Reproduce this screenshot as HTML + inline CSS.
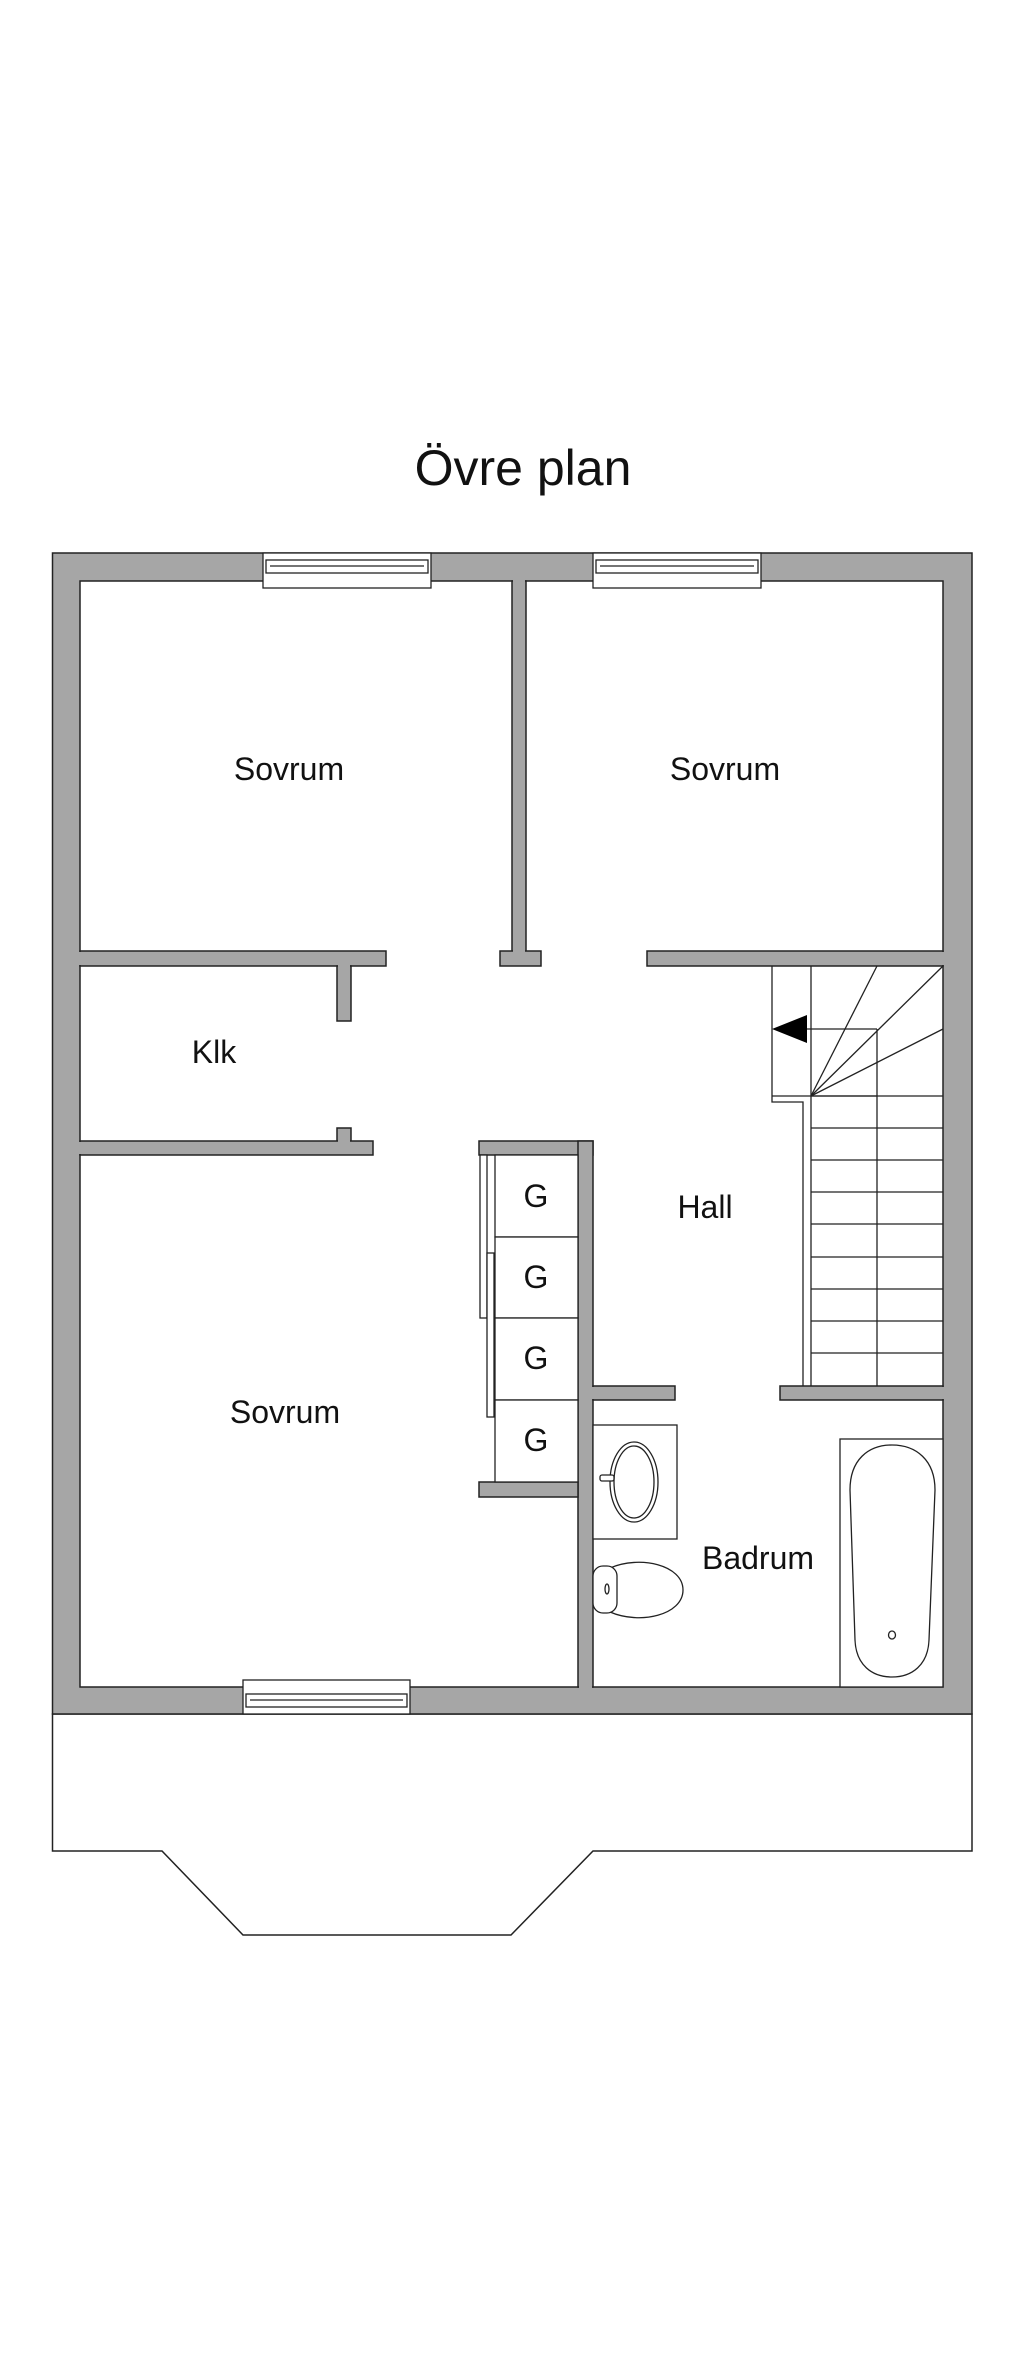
<!DOCTYPE html>
<html><head><meta charset="utf-8"><style>
html,body{margin:0;padding:0;background:#fff;}
svg{display:block;}
text{font-family:"Liberation Sans","DejaVu Sans",sans-serif;fill:#111;}
</style></head><body>
<svg width="1024" height="2374" viewBox="0 0 1024 2374" xmlns="http://www.w3.org/2000/svg">
<text x="523" y="485" font-size="50" text-anchor="middle">Övre plan</text>

<!-- balcony -->
<polygon points="52.5,1714 972,1714 972,1851 593,1851 511,1935 243,1935 162,1851 52.5,1851" fill="#fff" stroke="#222" stroke-width="1.5"/>

<!-- outer walls -->
<rect x="52.5" y="553" width="919.5" height="1161" fill="#a6a6a6" stroke="#222" stroke-width="1.5"/>
<rect x="80" y="581" width="863" height="1106" fill="#fff" stroke="#222" stroke-width="1.5"/>

<!-- interior walls -->
<g fill="#a6a6a6" stroke="#222" stroke-width="1.5">
<rect x="512" y="581" width="14" height="372"/>
<rect x="500" y="951" width="41" height="15"/>
<rect x="80" y="951" width="306" height="15"/>
<rect x="647" y="951" width="296" height="15"/>
<rect x="337" y="966" width="14" height="55"/>
<rect x="337" y="1128" width="14" height="15"/>
<rect x="80" y="1141" width="293" height="14"/>
<rect x="479" y="1141" width="114" height="14"/>
<rect x="578" y="1141" width="15" height="546"/>
<rect x="479" y="1482" width="99" height="15"/>
<rect x="593" y="1386" width="82" height="14"/>
<rect x="780" y="1386" width="163" height="14"/>
</g>
<!-- cover internal wall seams -->
<g fill="#a6a6a6">
<rect x="513" y="579" width="12" height="4"/>
<rect x="513" y="950" width="12" height="3"/>
<rect x="78" y="952" width="4" height="13"/>
<rect x="941" y="952" width="4" height="13"/>
<rect x="338" y="965" width="12" height="3"/>
<rect x="338" y="1140" width="12" height="3"/>
<rect x="78" y="1142" width="4" height="12"/>
<rect x="579" y="1142" width="13" height="12"/>
<rect x="579" y="1483" width="13" height="13"/>
<rect x="579" y="1387" width="16" height="12"/>
<rect x="941" y="1387" width="4" height="12"/>
<rect x="579" y="1685" width="13" height="4"/>
</g>

<!-- windows -->
<g fill="#fff" stroke="#222" stroke-width="1.3">
<rect x="263" y="553" width="168" height="35"/>
<rect x="266" y="560" width="162" height="13"/>
<line x1="270" y1="566" x2="424" y2="566"/>
<rect x="593" y="553" width="168" height="35"/>
<rect x="596" y="560" width="162" height="13"/>
<line x1="600" y1="566" x2="754" y2="566"/>
<rect x="243" y="1680" width="167" height="34"/>
<rect x="246" y="1694" width="161" height="13"/>
<line x1="250" y1="1700" x2="403" y2="1700"/>
</g>

<!-- closet -->
<g fill="#fff" stroke="#222" stroke-width="1.3">
<rect x="495" y="1155" width="83" height="82"/>
<rect x="495" y="1237" width="83" height="81"/>
<rect x="495" y="1318" width="83" height="82"/>
<rect x="495" y="1400" width="83" height="82"/>
<rect x="480" y="1155" width="7" height="163"/>
<rect x="487" y="1253" width="7" height="164"/>
</g>
<g font-size="32" text-anchor="middle">
<text x="536" y="1207">G</text>
<text x="536" y="1288">G</text>
<text x="536" y="1369">G</text>
<text x="536" y="1451">G</text>
</g>

<!-- stairs -->
<g fill="none" stroke="#222" stroke-width="1.3">
<polyline points="772,966 772,1102 803,1102 803,1386"/>
<line x1="811" y1="966" x2="811" y2="1386"/>
<line x1="877" y1="1029" x2="877" y2="1386"/>
<line x1="807" y1="1029" x2="877" y2="1029"/>
<line x1="811" y1="1096" x2="877" y2="1096"/>
<line x1="811" y1="1096" x2="877" y2="966"/>
<line x1="811" y1="1096" x2="943" y2="966"/>
<line x1="811" y1="1096" x2="943" y2="1029"/>
<line x1="772" y1="1096" x2="943" y2="1096"/>
<line x1="811" y1="1128" x2="943" y2="1128"/>
<line x1="811" y1="1160" x2="943" y2="1160"/>
<line x1="811" y1="1192" x2="943" y2="1192"/>
<line x1="811" y1="1224" x2="943" y2="1224"/>
<line x1="811" y1="1257" x2="943" y2="1257"/>
<line x1="811" y1="1289" x2="943" y2="1289"/>
<line x1="811" y1="1321" x2="943" y2="1321"/>
<line x1="811" y1="1353" x2="943" y2="1353"/>
</g>
<polygon points="772,1029 807,1015 807,1043" fill="#000"/>

<!-- bathroom fixtures -->
<g fill="#fff" stroke="#222" stroke-width="1.3">
<rect x="593" y="1425" width="84" height="114"/>
<ellipse cx="634" cy="1482" rx="24" ry="40"/>
<ellipse cx="634" cy="1482" rx="20" ry="36"/>
<rect x="600" y="1475" width="14" height="6" rx="2"/>
<path d="M610,1568 C640,1555 683,1565 683,1590 C683,1615 640,1625 610,1612 Z"/>
<rect x="593" y="1566" width="24" height="47" rx="10"/>
<ellipse cx="607" cy="1589" rx="2" ry="5"/>
<rect x="840" y="1439" width="103" height="248"/>
<path d="M850,1490 C850,1460 868,1445 892,1445 C916,1445 935,1460 935,1490 L929,1640 C928,1665 912,1677 892,1677 C872,1677 856,1665 855,1640 Z"/>
<ellipse cx="892" cy="1635" rx="3.5" ry="4"/>
</g>

<!-- labels -->
<g font-size="32" text-anchor="middle">
<text x="289" y="780">Sovrum</text>
<text x="725" y="780">Sovrum</text>
<text x="214" y="1063">Klk</text>
<text x="705" y="1218">Hall</text>
<text x="285" y="1423">Sovrum</text>
<text x="758" y="1569">Badrum</text>
</g>
</svg>
</body></html>
